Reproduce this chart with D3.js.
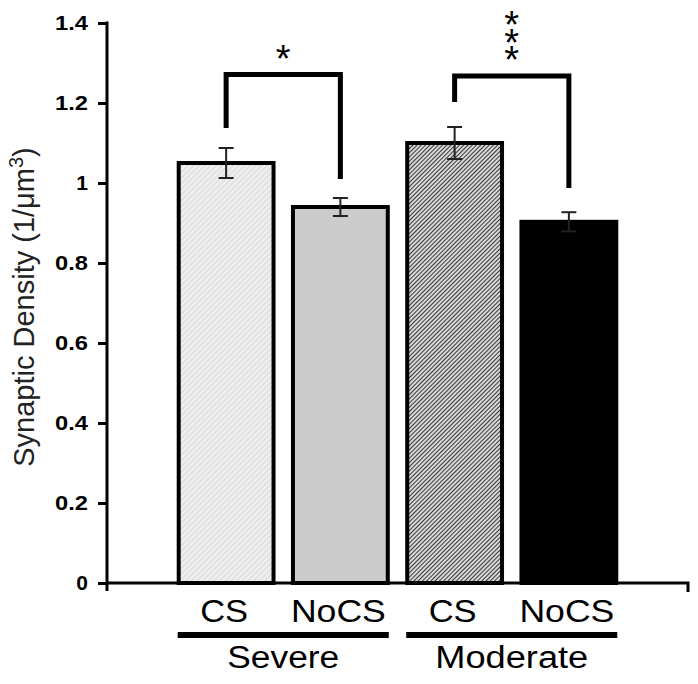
<!DOCTYPE html>
<html><head><meta charset="utf-8">
<script src="https://cdn.jsdelivr.net/npm/d3@7"></script>
<style>body{margin:0;background:#fff}svg{display:block;font-family:Arial,"Liberation Sans",sans-serif}</style>
</head><body>
<svg id="c" width="698" height="684"></svg>
<script>
const categories = ["CS", "NoCS", "CS", "NoCS"];
const groups = ["Severe", "Moderate"];
const values = [1.05, 0.94, 1.10, 0.903];
const errors = [0.0375, 0.0225, 0.04, 0.024];
const tickValues = [0, 0.2, 0.4, 0.6, 0.8, 1, 1.2, 1.4];
const tickLabels = ["0", "0.2", "0.4", "0.6", "0.8", "1", "1.2", "1.4"];
// brackets: [leftBar, rightBar, top, leftBottom, rightBottom]
const brackets = [[0, 1, 1.271, 1.1375, 1.01], [2, 3, 1.2675, 1.2025, 0.9875]];
const starLabels = ["*", "***"];
const starCenters = [1.3325, 1.377];

const svg = d3.select("#c");
const defs = svg.append("defs");
function hatch(id, bg, fg, gap, w) {
  const p = defs.append("pattern").attr("id", id).attr("patternUnits", "userSpaceOnUse")
    .attr("width", gap).attr("height", gap).attr("patternTransform", "rotate(45)");
  p.append("rect").attr("width", gap).attr("height", gap).attr("fill", bg);
  p.append("line").attr("x1", gap / 2).attr("x2", gap / 2).attr("y1", 0).attr("y2", gap)
    .attr("stroke", fg).attr("stroke-width", w);
}
hatch("h1", "#f0f0f0", "#d2d2d2", 4, 1);
hatch("h3", "#e8e8e8", "#3a3a3a", 3, 1.2);
const fills = ["url(#h1)", "#cccccc", "url(#h3)", "#000000"];

const y = d3.scaleLinear().domain([0, 1.4]).range([583, 23]);
const x = d3.scaleBand().domain(d3.range(categories.length)).range([169, 626]).paddingInner(0.17).paddingOuter(0.085);

// axes lines
svg.append("line").attr("x1", 107).attr("x2", 107).attr("y1", y(1.4) - 1.5).attr("y2", 591)
  .attr("stroke", "#000").attr("stroke-width", 3);
svg.append("path").attr("d", `M107,${y(0)}H688V592`).attr("fill", "none")
  .attr("stroke", "#000").attr("stroke-width", 3);

const ax = svg.append("g").attr("transform", "translate(107,0)")
  .call(d3.axisLeft(y).tickValues(tickValues).tickFormat((d, i) => tickLabels[i]).tickSize(9).tickPadding(10));
ax.select(".domain").remove();
ax.selectAll(".tick line").attr("stroke", "#000").attr("stroke-width", 3);
ax.selectAll(".tick text").attr("font-size", 21).attr("font-weight", "bold").attr("fill", "#000")
  .attr("font-family", "Arial, 'Liberation Sans', sans-serif")
  .each(function (d, i) { if (tickLabels[i].length > 1) d3.select(this).attr("textLength", 33).attr("lengthAdjust", "spacingAndGlyphs"); });

// bars
svg.selectAll("rect.bar").data(values).join("rect").attr("class", "bar")
  .attr("x", (d, i) => x(i)).attr("width", x.bandwidth())
  .attr("y", d => y(d)).attr("height", d => y(0) - y(d))
  .attr("fill", (d, i) => fills[i]).attr("stroke", "#000").attr("stroke-width", 4);

// error bars
const eb = svg.append("g").attr("stroke", "#222").attr("stroke-width", 2);
values.forEach((v, i) => {
  const cx = x(i) + x.bandwidth() / 2;
  eb.append("line").attr("x1", cx).attr("x2", cx).attr("y1", y(v + errors[i])).attr("y2", y(v - errors[i]));
  [v + errors[i], v - errors[i]].forEach(e => eb.append("line").attr("x1", cx - 7.5).attr("x2", cx + 7.5).attr("y1", y(e)).attr("y2", y(e)));
});

// brackets and significance stars (stacked vertically in one text)
brackets.forEach((b, k) => {
  const xl = x(b[0]) + x.bandwidth() / 2, xr = x(b[1]) + x.bandwidth() / 2;
  svg.append("path").attr("d", `M${xl},${y(b[3])}V${y(b[2])}H${xr}V${y(b[4])}`)
    .attr("fill", "none").attr("stroke", "#000").attr("stroke-width", 5);
  const st = svg.append("text").attr("font-size", 38).attr("class", "stars").text(starLabels[k]);
  if (starLabels[k].length > 1) {
    st.attr("x", (xl + xr) / 2).attr("y", y(starCenters[k]))
      .attr("text-anchor", "middle")
      .style("writing-mode", "vertical-rl").style("text-orientation", "upright")
      .attr("letter-spacing", 0);
  } else {
    st.attr("x", (xl + xr) / 2).attr("y", y(starCenters[k]) + 0.57 * 38).attr("text-anchor", "middle");
  }
});
// tune vertical star spacing to ~17.5px per star
svg.selectAll("text.stars").each(function () {
  const n = this.textContent.length;
  if (n < 2) return;
  const len = this.getComputedTextLength();
  const target = 17.5;
  const adv = len / n;
  d3.select(this).attr("letter-spacing", target - adv);
  const bb = this.getBBox();
  const cy = bb.y + bb.height / 2;
  const want = +this.getAttribute("y");
  d3.select(this).attr("y", want + (want - cy) + 0);
});

// category labels
const catW = { "CS": 48, "NoCS": 95 };
categories.forEach((c, i) => {
  svg.append("text").attr("x", x(i) + x.bandwidth() / 2 - 2).attr("y", 622).attr("text-anchor", "middle")
    .attr("font-size", 31).attr("textLength", catW[c]).attr("lengthAdjust", "spacingAndGlyphs").text(c);
});
const grpW = [112, 153];
groups.forEach((g, k) => {
  const x0 = x(2 * k) - 1, x1 = x(2 * k + 1) + x.bandwidth() + 1;
  svg.append("line").attr("x1", x0).attr("x2", x1).attr("y1", 635).attr("y2", 635)
    .attr("stroke", "#000").attr("stroke-width", 6);
  svg.append("text").attr("x", (x0 + x1) / 2).attr("y", 668).attr("text-anchor", "middle")
    .attr("font-size", 31).attr("textLength", grpW[k]).attr("lengthAdjust", "spacingAndGlyphs").text(g);
});

// y title
const t = svg.append("text").attr("transform", "translate(34,307) rotate(-90)").attr("text-anchor", "middle")
  .attr("font-size", 29).attr("fill", "#222");
t.append("tspan").text("Synaptic Density (1/μm");
t.append("tspan").attr("font-size", 20).attr("dy", -11).text("3");
t.append("tspan").attr("dy", 11).text(")");
</script>
</body></html>
